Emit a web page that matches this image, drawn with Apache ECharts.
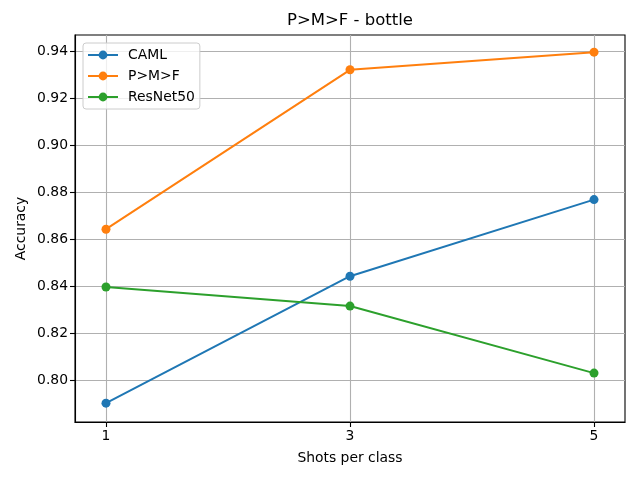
<!DOCTYPE html>
<html><head><meta charset="utf-8">
<script src="https://cdn.jsdelivr.net/npm/echarts@6/dist/echarts.min.js"></script>
<style>html,body{margin:0;padding:0;background:#fff}#c{width:640px;height:480px}</style>
</head><body><div id="c"></div>
<script>
const shots = [1, 3, 5];
const xTicks = [1, 3, 5];
const yTicks = [0.80, 0.82, 0.84, 0.86, 0.88, 0.90, 0.92, 0.94];
const caml = [0.7902, 0.8442, 0.8768];
const pmf = [0.8642, 0.9320, 0.9395];
const resnet = [0.8396, 0.8315, 0.8030];
const seriesNames = ['CAML', 'P>M>F', 'ResNet50'];
const colors = ['#1f77b4', '#ff7f0e', '#2ca02c'];
const font = 'DejaVu Sans';

function mk(name, vals, color) {
  return {
    name: name, type: 'line', data: shots.map((x, i) => [x, vals[i]]),
    symbol: 'circle', symbolSize: 9, showSymbol: true,
    itemStyle: { color: color }, lineStyle: { color: color, width: 2 },
    emphasis: { disabled: true }, animation: false
  };
}
const chart = echarts.init(document.getElementById('c'));
chart.setOption({
  animation: false,
  title: { text: 'P>M>F - bottle', left: 350, top: 12, textAlign: 'center', padding: 0,
    textStyle: { fontFamily: font, fontSize: 16.5, fontWeight: 'normal', color: '#000' } },
  legend: {
    left: 83, top: 43, orient: 'vertical', itemWidth: 30, itemHeight: 11, itemGap: 7,
    padding: [5, 5, 5, 4], borderColor: '#cccccc', borderWidth: 1, borderRadius: 3,
    backgroundColor: 'rgba(255,255,255,0.8)',
    lineStyle: { width: 2 },
    textStyle: { fontFamily: font, fontSize: 13.9, color: '#000', lineHeight: 14, padding: [0, 0, 0, 5] },
    data: seriesNames
  },
  grid: { left: 75, right: 15, top: 35, bottom: 58, show: true, borderColor: '#000', borderWidth: 1.1 },
  xAxis: {
    type: 'value', min: 0.746, max: 5.254,
    name: 'Shots per class', nameLocation: 'middle', nameGap: 29, nameMoveOverlap: false,
    nameTextStyle: { fontFamily: font, fontSize: 13.9, color: '#000' },
    axisLine: { show: true, lineStyle: { color: '#000', width: 1.1 } },
    axisTick: { show: true, customValues: xTicks, length: 5, lineStyle: { color: '#000', width: 1.1 } },
    axisLabel: { customValues: xTicks, fontFamily: font, fontSize: 13.9, color: '#000', margin: 7 },
    splitLine: { show: true, lineStyle: { color: '#b0b0b0', width: 1.1 } }
  },
  yAxis: {
    type: 'value', min: 0.7822, max: 0.9468,
    name: 'Accuracy', nameLocation: 'middle', nameGap: 47, nameRotate: 90, nameMoveOverlap: false,
    nameTextStyle: { fontFamily: font, fontSize: 13.9, color: '#000' },
    axisLine: { show: true, lineStyle: { color: '#000', width: 1.1 } },
    axisTick: { show: true, customValues: yTicks, length: 5, lineStyle: { color: '#000', width: 1.1 } },
    axisLabel: { customValues: yTicks, formatter: v => v.toFixed(2), fontFamily: font, fontSize: 13.9, color: '#000', margin: 7 },
    splitLine: { show: true, lineStyle: { color: '#b0b0b0', width: 1.1 } }
  },
  series: [mk(seriesNames[0], caml, colors[0]), mk(seriesNames[1], pmf, colors[1]), mk(seriesNames[2], resnet, colors[2])]
});
</script></body></html>
